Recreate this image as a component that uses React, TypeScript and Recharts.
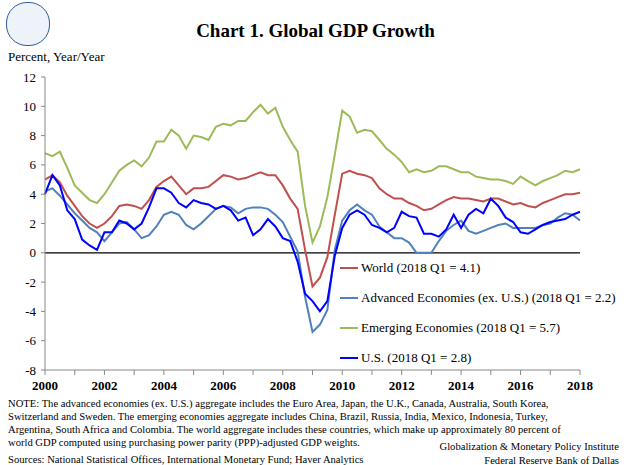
import { LineChart, Line, XAxis, YAxis, ReferenceLine } from 'recharts';

// quarterly, 2000 Q1 .. 2018 Q1
const world = [
  5.0, 5.3, 4.8, 3.9, 3.2, 2.5, 2.0, 1.7, 2.0, 2.5, 3.2, 3.3, 3.2, 3.0, 3.6, 4.5,
  4.9, 5.2, 4.6, 4.0, 4.4, 4.4, 4.5, 4.9, 5.3, 5.2, 5.0, 5.1, 5.3, 5.5, 5.3, 5.3,
  4.6, 3.7, 3.0, 0.2, -2.3, -1.7, -0.3, 2.6, 5.4, 5.6, 5.4, 5.3, 5.1, 4.4, 4.0, 3.7,
  3.7, 3.4, 3.2, 2.9, 3.0, 3.3, 3.6, 3.8, 3.7, 3.7, 3.6, 3.5, 3.7, 3.7, 3.5, 3.3,
  3.4, 3.2, 3.1, 3.4, 3.6, 3.8, 4.0, 4.0, 4.1,
];
const advanced = [
  4.2, 4.4, 3.9, 3.3, 2.7, 2.2, 1.7, 1.4, 0.8, 1.4, 2.0, 2.1, 1.6, 1.0, 1.2, 1.8,
  2.6, 2.8, 2.6, 1.9, 1.6, 2.0, 2.5, 3.0, 3.2, 3.1, 2.7, 3.0, 3.1, 3.1, 3.0, 2.6,
  2.1, 1.1, 0.1, -3.0, -5.4, -4.9, -3.9, 0.2, 2.2, 2.9, 3.3, 2.9, 2.6, 1.8, 1.4, 1.0,
  1.0, 0.7, 0.0, 0.0, 0.0, 0.8, 1.5, 1.9, 2.2, 1.5, 1.3, 1.5, 1.7, 1.9, 2.0, 1.7,
  1.7, 1.7, 1.7, 1.9, 2.0, 2.4, 2.7, 2.6, 2.2,
];
const emerging = [
  6.8, 6.6, 6.9, 5.8, 4.6, 4.1, 3.6, 3.4, 4.0, 4.8, 5.6, 6.0, 6.3, 5.9, 6.5, 7.6,
  7.6, 8.4, 8.0, 7.1, 8.0, 7.9, 7.7, 8.6, 8.8, 8.7, 9.0, 9.0, 9.6, 10.1, 9.5, 9.9,
  8.6, 7.7, 6.9, 3.2, 0.7, 1.8, 3.8, 6.7, 9.7, 9.3, 8.2, 8.4, 8.3, 7.7, 7.1, 6.7,
  6.2, 5.5, 5.7, 5.5, 5.6, 5.9, 5.9, 5.7, 5.5, 5.5, 5.2, 5.1, 5.0, 5.0, 4.9, 4.7,
  5.2, 4.9, 4.6, 4.9, 5.1, 5.3, 5.6, 5.5, 5.7,
];
const us = [
  4.0, 5.3, 4.6, 2.9, 2.3, 0.9, 0.5, 0.2, 1.4, 1.4, 2.2, 2.0, 1.6, 2.0, 3.1, 4.4,
  4.4, 4.1, 3.4, 3.1, 3.6, 3.4, 3.3, 3.0, 3.2, 2.9, 2.2, 2.4, 1.2, 1.6, 2.3, 1.8,
  1.0, 0.8, -0.6, -2.8, -3.3, -4.0, -3.3, -0.2, 1.7, 2.6, 2.9, 2.6, 1.9, 1.7, 1.4, 1.7,
  2.8, 2.5, 2.4, 1.3, 1.3, 1.1, 1.6, 2.6, 1.7, 2.6, 3.0, 2.7, 3.7, 3.2, 2.4, 2.1,
  1.4, 1.3, 1.6, 1.9, 2.1, 2.2, 2.3, 2.6, 2.8,
];
const yTicks = [-8, -6, -4, -2, 0, 2, 4, 6, 8, 10, 12];
const yearTicks = Array.from({ length: 19 }, (_, i) => i * 4);

const data = world.map((w, i) => ({
  q: i,
  world: w,
  advanced: advanced[i],
  emerging: emerging[i],
  us: us[i],
}));

const serif = '"Liberation Serif", "Times New Roman", serif';

const legend = [
  { label: 'World (2018 Q1 = 4.1)', color: '#C0504D', top: 268 },
  { label: 'Advanced Economies (ex. U.S.) (2018 Q1 = 2.2)', color: '#4F81BD', top: 298 },
  { label: 'Emerging Economies (2018 Q1 = 5.7)', color: '#9BBB59', top: 328 },
  { label: 'U.S. (2018 Q1 = 2.8)', color: '#0000FF', top: 358 },
];

const abs = (left: number, top: number, extra: object = {}) => ({
  position: 'absolute' as const,
  left,
  top,
  fontFamily: serif,
  color: '#000',
  whiteSpace: 'nowrap' as const,
  ...extra,
});

const XTick = ({ x, y, payload }: any) =>
  payload.value % 8 === 0 ? (
    <text x={x} y={y + 13} textAnchor="middle" fontFamily={serif} fontSize={13} fontWeight="bold" fill="#000">
      {2000 + payload.value / 4}
    </text>
  ) : null;

const YTick = ({ x, y, payload }: any) => (
  <text x={x - 3} y={y + 4.5} textAnchor="end" fontFamily={serif} fontSize={13} fill="#000">
    {payload.value}
  </text>
);

export default function App() {
  return (
    <div style={{ position: 'absolute', left: 0, top: 0, width: 631, height: 465, background: '#fff', fontFamily: serif }}>
      <LineChart
        width={631}
        height={465}
        data={data}
        margin={{ top: 77, right: 51, left: 8, bottom: 75 }}
      >
        <XAxis
          dataKey="q"
          type="number"
          domain={[0, 72]}
          ticks={yearTicks}
          tick={<XTick />}
          tickLine={{ stroke: '#888' }}
          axisLine={{ stroke: '#888' }}
          tickSize={5}
          height={20}
        />
        <YAxis
          domain={[-8, 12]}
          ticks={yTicks}
          tick={<YTick />}
          tickLine={{ stroke: '#888' }}
          axisLine={{ stroke: '#888' }}
          tickSize={4}
          width={37}
          interval={0}
        />
        <ReferenceLine y={0} stroke="#000" strokeWidth={1.2} />
        <Line dataKey="emerging" stroke="#9BBB59" strokeWidth={2} dot={false} isAnimationActive={false} />
        <Line dataKey="world" stroke="#C0504D" strokeWidth={2} dot={false} isAnimationActive={false} />
        <Line dataKey="advanced" stroke="#4F81BD" strokeWidth={2} dot={false} isAnimationActive={false} />
        <Line dataKey="us" stroke="#0000FF" strokeWidth={2} dot={false} isAnimationActive={false} />
      </LineChart>

      <div style={{ position: 'absolute', left: 6, top: 2, width: 42, height: 42, borderRadius: 21, border: '1.5px solid #2E5C9A', background: '#EEF3F9' }} />
      <div style={abs(0, 20, { width: 631, textAlign: 'center', fontSize: 19, fontWeight: 'bold' })}>
        Chart 1. Global GDP Growth
      </div>
      <div style={abs(8, 49, { fontSize: 13 })}>Percent, Year/Year</div>

      {legend.map((l) => (
        <div key={l.label} style={abs(340, l.top - 8, { fontSize: 13, display: 'flex', alignItems: 'center' })}>
          <span style={{ display: 'inline-block', width: 18, height: 2, background: l.color, marginRight: 3 }} />
          {l.label}
        </div>
      ))}

      <div style={abs(8, 397, { fontSize: 10.6, lineHeight: '13px', whiteSpace: 'normal', width: 600 })}>
        NOTE: The advanced economies (ex. U.S.) aggregate includes the Euro Area, Japan, the U.K., Canada, Australia, South Korea,
        <br />Switzerland and Sweden. The emerging economies aggregate includes China, Brazil, Russia, India, Mexico, Indonesia, Turkey,
        <br />Argentina, South Africa and Colombia. The world aggregate includes these countries, which make up approximately 80 percent of
        <br />world GDP computed using purchasing power parity (PPP)-adjusted GDP weights.
      </div>
      <div style={abs(0, 440, { width: 619, textAlign: 'right', fontSize: 10.6, lineHeight: '14px' })}>
        Globalization &amp; Monetary Policy Institute
        <br />Federal Reserve Bank of Dallas
      </div>
      <div style={abs(8, 454, { fontSize: 10.6 })}>
        Sources: National Statistical Offices, International Monetary Fund; Haver Analytics
      </div>
    </div>
  );
}
